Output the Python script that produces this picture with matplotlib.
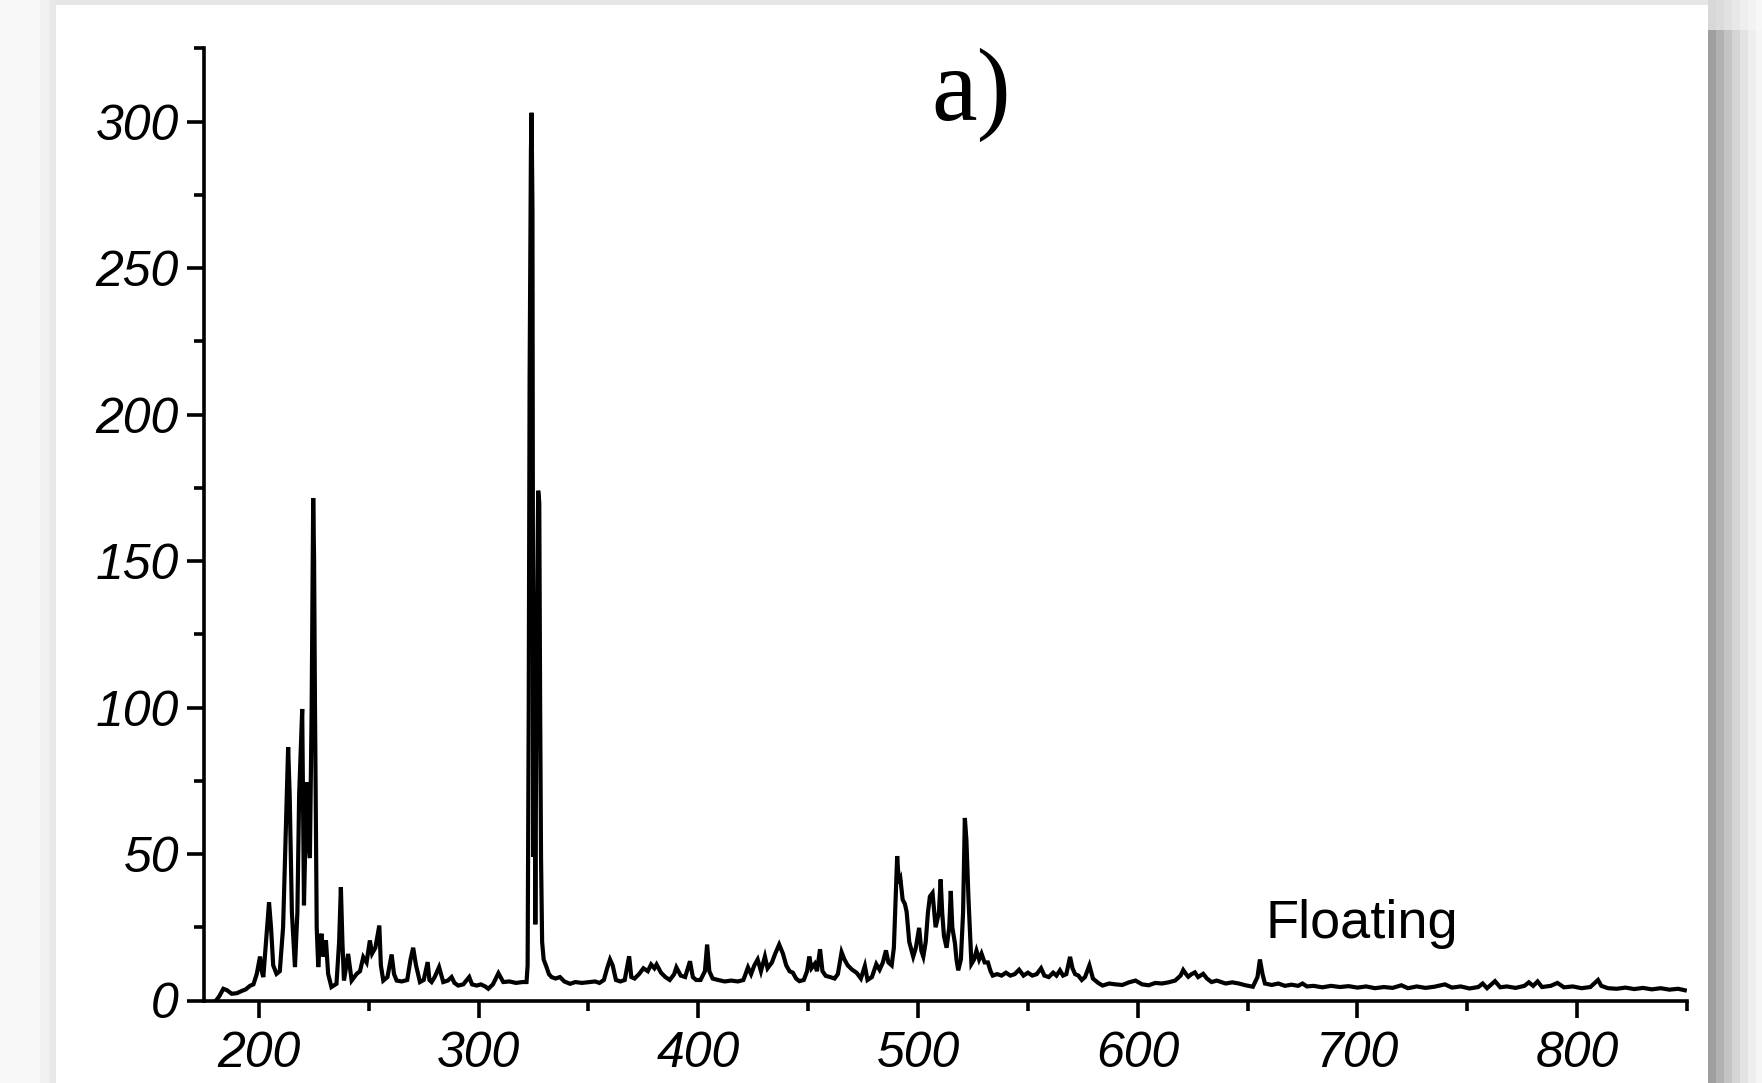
import numpy as np
import matplotlib.pyplot as plt
from matplotlib.patches import Rectangle
from matplotlib.ticker import MultipleLocator

# --- Spectrum (wavelength, intensity)
wavelength = [
    180.5, 182, 183.8, 185.5, 187.6, 190, 192, 194, 195.9, 197.5, 199, 200.5, 201.3, 202, 203,
    204.6, 205.5, 206.5, 208, 209.5, 211, 212.3, 213.3, 214, 215, 216.4, 217.5, 218.3, 219.7,
    220.5, 221.7, 222.5, 223.2, 224, 224.7, 225.1, 225.5, 226.3, 227, 227.7, 228.5, 229.3,
    230.5, 231.5, 233, 235.3, 236.5, 237.3, 238, 238.7, 240.6, 242.2, 244.5, 246, 247.5, 249,
    250.5, 251.5, 253, 254.8, 255.5, 256.6, 258.5, 260.4, 261.5, 262.7, 265, 267.5, 269, 270.2,
    271.5, 273.3, 275, 276.8, 277.6, 278.6, 280, 282, 283.9, 286, 287.7, 289, 290.7, 293,
    295.7, 297, 299.1, 301, 303, 304.4, 306.5, 309, 311.2, 314, 317, 320, 321.8, 322.3, 322.8,
    323.2, 323.8, 324.1, 324.5, 324.9, 325.3, 325.8, 326.4, 327.1, 327.6, 328, 328.4, 328.9,
    329.6, 330.9, 332, 333.2, 335, 337, 339, 341.6, 344, 347, 350.7, 353, 355, 357, 358.5,
    359.8, 361, 362.5, 364.5, 366.5, 368.5, 369.5, 371, 373, 375, 377, 378.5, 380, 381, 383,
    385, 387, 389, 390, 392, 394, 396.2, 397.5, 399, 401, 403, 404, 405, 406.5, 409, 412, 415,
    418, 420.5, 421.5, 422.6, 424, 425.5, 427, 428.5, 430.3, 431.5, 433.5, 435, 436.8, 438.5,
    440, 441.5, 443, 444.5, 446, 448, 449.5, 450.5, 451.5, 453, 454, 455.4, 456.5, 458, 460,
    462, 463.5, 465.2, 466.5, 468, 470, 472, 474, 475.8, 477, 479, 481, 482.5, 484, 485.4,
    486.5, 488, 489, 489.8, 490.5, 491.3, 492, 493, 494, 494.8, 496, 497.8, 499, 500.5, 501.5,
    502.4, 503.5, 504.5, 505.4, 506.6, 508, 509.5, 510.3, 511, 511.8, 513, 514.2, 514.9, 515.6,
    516.8, 517.5, 518.3, 519.5, 520.5, 521.3, 522, 523, 524.3, 525.5, 526.6, 527.8, 528.9,
    530.3, 531.8, 533, 534, 536, 538, 540, 542, 544, 546, 548, 550, 552, 554, 556, 557.5,
    559.5, 561.5, 563, 564.6, 566, 567.5, 569.2, 570.3, 571.5, 573, 574.5, 576, 578, 579.6,
    582, 584, 587, 590, 593, 596, 599, 602, 605, 608, 611, 614, 617, 619.5, 620.7, 622, 623,
    624.5, 626, 627.5, 629.8, 631.5, 633.6, 636, 640, 643, 646, 649, 652.4, 654.5, 655.6,
    656.8, 657.9, 661, 664, 667, 670, 673, 675, 677, 680, 684, 688, 692, 696, 700, 704, 708,
    712, 716, 720, 723, 727, 731, 735, 739.8, 743, 747, 751, 755, 757, 759, 762.6, 765, 768,
    772, 776, 778, 780, 782, 784, 788, 791, 794, 798, 802, 806, 809.5, 811, 814, 818, 822,
    826, 830, 834, 838, 842, 846, 849,
]
intensity = [
    0, 1.5, 4, 3.5, 2.3, 2.5, 3.2, 3.8, 5, 5.5, 9, 15, 10, 8, 18,
    33.5, 25, 12, 9.1, 10, 25, 60, 86.5, 70, 30, 11.4, 30, 70, 99.5,
    32.5, 74.5, 55, 48.6, 100, 171.5, 151, 102, 25, 11.4, 20, 22.8, 15,
    20.5, 9.1, 4.6, 5.7, 20, 38.7, 20, 6.8, 15.9, 6.8, 9.1, 10, 14.8, 13,
    20.5, 16, 18, 25.6, 12, 6.8, 8, 15.7, 9, 6.8, 6.5, 7, 14, 18,
    12, 6.3, 7, 13.1, 7, 6.3, 8, 11.4, 6.3, 6.8, 8, 6, 5.1, 5.5,
    8, 5.5, 5.1, 5.5, 4.8, 4, 5.5, 9.3, 6.3, 6.5, 6, 6.3, 6.3, 12, 100,
    212, 290, 303, 270, 49, 130, 26, 120, 174, 170, 100, 49, 20,
    14, 11.4, 9, 8, 7.5, 8, 6.5, 5.7, 6.3, 6, 6.3, 6.5, 6, 7, 11,
    14, 12, 7, 6.5, 7, 15.1, 8, 7.5, 9, 11, 10, 12.3, 11, 12.3, 9.5,
    8, 7, 9, 11.3, 8.5, 8, 13.4, 8, 7, 7, 10, 19.1, 10, 7.5, 7, 6.5, 6.8,
    6.5, 7, 9, 11.3, 9, 12, 14, 10, 15, 11, 13, 16, 19.1, 16,
    12, 10, 9.5, 7.5, 6.6, 7, 10, 15, 11, 12.5, 10, 17.5, 10, 8.4, 8,
    7.5, 9, 16.5, 14, 12, 10.5, 9.5, 7.5, 11.8, 7, 8, 12.4, 10.5, 13, 17.1,
    13, 12, 18, 35, 49.3, 40, 41.3, 34.4, 33, 30.3, 20, 15, 18, 24.8, 17,
    15, 20, 30, 35.5, 36.7, 25, 30, 41.3, 30, 22, 18, 25, 37.4, 25,
    19.5, 14, 10.3, 14, 30, 62.3, 55, 34, 12.5, 14, 17, 14, 16,
    13, 13, 10, 8.5, 9, 8.5, 9.5, 8.5, 9, 10.5, 8.5, 9.5, 8.5, 9, 11, 8.5,
    8, 9.5, 8.5, 10.3, 8.5, 9, 14.9, 11, 9, 8.5, 7, 8, 12, 7.5,
    6, 5.1, 5.8, 5.5, 5.3, 6.2, 6.8, 5.5, 5.2, 6, 5.8, 6.2, 6.8, 8.5, 10.4, 9, 8.1,
    9, 9.6, 8, 9.1, 7.5, 6.3, 6.8, 5.8, 6.2, 5.8, 5.2, 4.7, 8, 14,
    9, 5.8, 5.3, 5.8, 5.0, 5.4, 5.0, 5.8, 4.8, 5.0, 4.5, 5.0, 4.6, 4.9, 4.4, 4.8, 4.2,
    4.6, 4.3, 5.2, 4.2, 4.8, 4.3, 4.7, 5.5, 4.4, 4.8, 4.1, 4.6, 5.8, 4.2, 6.6, 4.5, 4.8,
    4.3, 5.0, 6.2, 5.0, 6.5, 4.6, 5.0, 6, 4.5, 4.8, 4.2, 4.6, 7, 5, 4.2, 4.0, 4.4,
    3.9, 4.3, 3.8, 4.2, 3.7, 4.0, 3.5,
]

x_lim = (175, 850)
y_lim = (0, 325)

plt.rcParams['font.family'] = ['Liberation Sans', 'DejaVu Sans']

fig = plt.figure(figsize=(17.62, 10.83), dpi=100)
W, H = 1762, 1083


def px_rect(x0, y0, x1, y1, color):
    """Rectangle in pixel coordinates (origin top-left)"""
    fig.patches.append(Rectangle((x0 / W, 1 - y1 / H), (x1 - x0) / W, (y1 - y0) / H,
                                 transform=fig.transFigure, facecolor=color,
                                 edgecolor='none', zorder=0))


# --- Page frame / shadow around the white panel
px_rect(0, 0, 40, H, '#f8f8f8')
px_rect(40, 0, 50, H, '#f0f0f0')
px_rect(50, 0, 56, H, '#e8e8e8')
px_rect(56, 0, 1708, 5, '#e6e6e6')
shadow = ['#9f9f9f', '#b1b1b1', '#c4c4c4', '#d5d5d5', '#e3e3e3', '#eeeeee', '#f6f6f6']
top_fade = ['#d8d8d8', '#dcdcdc', '#e2e2e2', '#e8e8e8', '#eeeeee', '#f3f3f3', '#f8f8f8']
for i, col in enumerate(shadow):
    px_rect(1708 + 8 * i, 30, 1708 + 8 * (i + 1), H, col)
    px_rect(1708 + 8 * i, 0, 1708 + 8 * (i + 1), 30, top_fade[i])
px_rect(1764, 0, W, H, '#f8f8f8')

# --- Plot
ax = fig.add_axes([204 / W, 1 - 1000.5 / H, (1687 - 204) / W, (1000.5 - 48.3) / H])
ax.set_facecolor('none')
ax.plot(wavelength, intensity, color='k', linewidth=3.0, solid_joinstyle='miter')

ax.set_xlim(*x_lim)
ax.set_ylim(*y_lim)
ax.spines['top'].set_visible(False)
ax.spines['right'].set_visible(False)
for side in ['left', 'bottom']:
    ax.spines[side].set_linewidth(2.6)

ax.xaxis.set_major_locator(MultipleLocator(100))
ax.xaxis.set_minor_locator(MultipleLocator(50))
ax.yaxis.set_major_locator(MultipleLocator(50))
ax.yaxis.set_minor_locator(MultipleLocator(25))
ax.tick_params(which='major', direction='out', length=12, width=2.6, labelsize=36, pad=6)
ax.tick_params(which='minor', direction='out', length=7, width=2.6)
ax.tick_params(axis='x', which='major', pad=10)
for lab in ax.get_xticklabels() + ax.get_yticklabels():
    lab.set_fontstyle('italic')

ax.text(524, 309, 'a)', ha='center', va='center', fontsize=74,
        family=['Liberation Serif', 'DejaVu Serif'])
ax.text(658, 21.3, 'Floating', ha='left', va='baseline', fontsize=39)

fig.savefig('out.png', dpi=100)
